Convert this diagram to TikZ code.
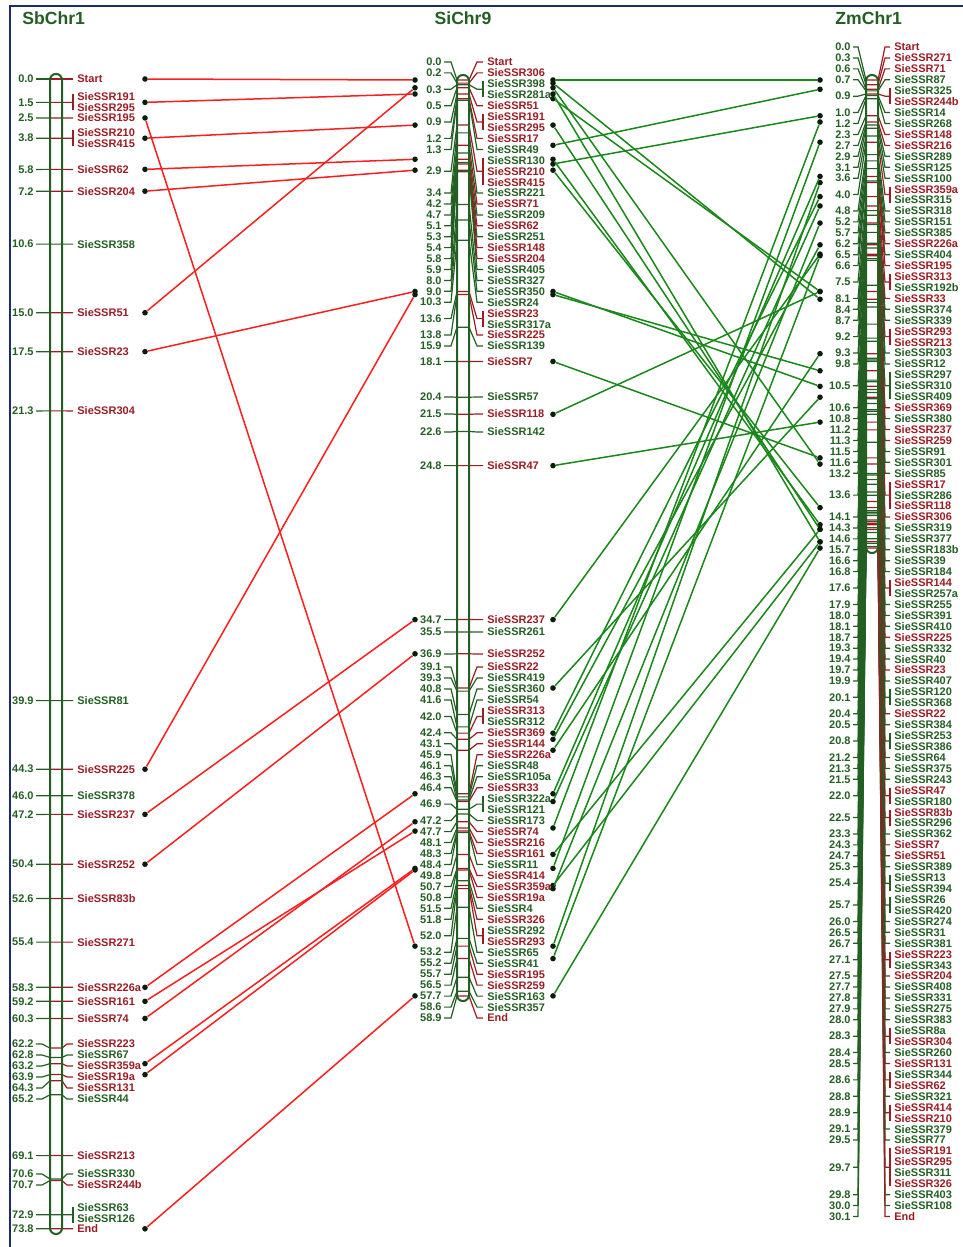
\documentclass[tikz,border=0pt]{standalone}
\usepackage{fontspec}
\setmainfont{Liberation Sans}
\usetikzlibrary{positioning}
\definecolor{mg}{RGB}{35,95,35}
\definecolor{mr}{RGB}{155,28,35}
\definecolor{lr}{RGB}{250,30,30}
\definecolor{lg}{RGB}{25,135,25}
\definecolor{frame}{RGB}{28,42,110}
\tikzset{every picture/.style={/utils/exec={\bfseries\fontsize{5.5}{6}\selectfont}}}
\tikzset{
  num/.style={anchor=east,inner sep=0.5pt,text=mg},
  lbl/.style={anchor=west,inner sep=0.5pt},
  dot/.style={circle,fill=black!70!mg,inner sep=0pt,minimum size=2.8pt},
  redlink/.style={lr,line width=0.75pt},
  greenlink/.style={lg,line width=0.75pt},
  tick/.style={line width=0.6pt},
  chrbar/.style={mg,line width=1pt,rounded corners=2.9pt},
  title/.style={text=mg,font=\bfseries\fontsize{8.8}{10}\selectfont,anchor=west,inner sep=0pt}
}
% one position of a map: cM, label y, bracket half height, colour, node name
\newcommand{\mgroup}[5]{%
  \pgfmathsetmacro\yt{\Yo+\Ks*#1}
  \node[num] (#5) at (\Xn,#2) {#1};
  \draw[tick,color=mg] (\Xn+1,#2) -- (\Xa,#2) -- (\Xbl,\yt);
  \draw[tick,color=#4] (\Xbl,\yt) -- (\Xbr,\yt) -- (\Xc,#2) -- (\Xt-3,#2);
  \ifdim #3pt>0pt \draw[tick,color=#4] (\Xt-3,#2-#3) -- (\Xt-3,#2+#3);\fi
}

\begin{document}
\begin{tikzpicture}[x=0.5pt,y=-0.5pt]
  \useasboundingbox (0,0) rectangle (963,1247);
  \draw[frame,line width=1.2pt] (10,1247) -- (10,6) -- (963,6);

  % SbChr1
  \node[title] (sbtitle) at (22,18) {SbChr1};
  \def\Yo{79}\def\Ks{15.58}
  \def\Xn{35}\def\Xa{42}\def\Xbl{50}\def\Xbr{62}\def\Xc{67}\def\Xt{76}
  \foreach \cm/\ny/\h/\c [count=\i] in {0.0/79/0/mr,1.5/102.4/8/mr,2.5/118/0/mr,3.8/138.2/8/mr,
    5.8/169.4/0/mr,7.2/191.2/0/mr,10.6/244.1/0/mg,15.0/312.7/0/mr,17.5/351.7/0/mr,21.3/410.9/0/mr,
    39.9/700.6/0/mg,44.3/769.2/0/mr,46.0/795.7/0/mg,47.2/814.4/0/mr,50.4/864.2/0/mr,52.6/898.5/0/mr,
    55.4/942.1/0/mr,58.3/987.3/0/mr,59.2/1001.3/0/mr,60.3/1018.5/0/mr,62.2/1044/0/mr,62.8/1055/0/mg,
    63.2/1066/0/mr,63.9/1077/0/mr,64.3/1088/0/mr,65.2/1099/0/mg,69.1/1155.6/0/mr,70.6/1174/0/mg,
    70.7/1185/0/mr,72.9/1214.8/8/mg,73.8/1228.8/0/mr}
    {\mgroup{\cm}{\ny}{\h}{\c}{sbn\i}}
  \foreach \y/\n/\c [count=\i] in {79/Start/mr,97/SieSSR191/mr,108/SieSSR295/mr,118/SieSSR195/mr,
    133/SieSSR210/mr,144/SieSSR415/mr,169.4/SieSSR62/mr,191.2/SieSSR204/mr,244.1/SieSSR358/mg,
    312.7/SieSSR51/mr,351.7/SieSSR23/mr,410.9/SieSSR304/mr,700.6/SieSSR81/mg,769.2/SieSSR225/mr,
    795.7/SieSSR378/mg,814.4/SieSSR237/mr,864.2/SieSSR252/mr,898.5/SieSSR83b/mr,942.1/SieSSR271/mr,
    987.3/SieSSR226a/mr,1001.3/SieSSR161/mr,1018.5/SieSSR74/mr,1044/SieSSR223/mr,1055/SieSSR67/mg,
    1066/SieSSR359a/mr,1077/SieSSR19a/mr,1088/SieSSR131/mr,1099/SieSSR44/mg,1155.6/SieSSR213/mr,
    1174/SieSSR330/mg,1185/SieSSR244b/mr,1208/SieSSR63/mg,1219/SieSSR126/mg,1228.8/End/mr}
    \node[lbl,text=\c] (sbl\i) at (\Xt,\y) {\n};
  \draw[chrbar] (\Xbl,\Yo-5) rectangle (\Xbr,1234);

  % SiChr9
  \node[title,anchor=center] (sititle) at (463,18) {SiChr9};
  \def\Yo{80}\def\Ks{15.55}
  \def\Xn{443}\def\Xa{451}\def\Xbl{457}\def\Xbr{469}\def\Xc{477}\def\Xt{486}
  \foreach \cm/\ny/\h/\c [count=\i] in {0.0/62/0/mr,0.2/72.9/0/mr,0.3/89.3/8/mg,0.5/105.7/0/mr,
    0.9/122/8/mr,1.2/138.4/0/mr,1.3/149.4/0/mg,2.9/171.2/13.5/mr,3.4/193/0/mg,4.2/204/0/mr,
    4.7/214.9/0/mg,5.1/225.8/0/mr,5.3/236.7/0/mg,5.4/247.6/0/mr,5.8/258.6/0/mr,5.9/269.5/0/mg,
    8.0/280.4/0/mg,9.0/291.3/0/mg,10.3/302.2/0/mg,13.6/318.6/8/mr,13.8/335/0/mr,15.9/345.9/0/mg,
    18.1/361.5/0/mr,20.4/397/0/mg,21.5/414/0/mr,22.6/432/0/mg,24.8/465.6/0/mr,34.7/619.6/0/mr,
    35.5/632/0/mg,36.9/654/0/mr,39.1/667/0/mr,39.3/678/0/mg,40.8/688.9/0/mg,41.6/699.9/0/mg,
    42.0/716.4/8/mr,42.4/732.8/0/mr,43.1/743.8/0/mr,45.9/754.8/0/mr,46.1/765.7/0/mg,46.3/776.7/0/mg,
    46.4/787.7/0/mr,46.9/804.1/8/mg,47.2/820.6/0/mg,47.7/831.6/0/mr,48.1/842.5/0/mr,48.3/853.5/0/mr,
    48.4/864.5/0/mg,49.8/875.4/0/mr,50.7/886.4/0/mr,50.8/897.4/0/mr,51.5/908.3/0/mg,51.8/919.3/0/mr,
    52.0/935.8/8/mr,53.2/952.2/0/mg,55.2/963.2/0/mg,55.7/974.2/0/mr,56.5/985.1/0/mr,57.7/996.1/0/mg,
    58.6/1007.1/0/mg,58.9/1018/0/mr}
    {\mgroup{\cm}{\ny}{\h}{\c}{sin\i}}
  \foreach \n/\c [count=\i from 0] in {Start/mr,SieSSR306/mr,SieSSR398/mg,SieSSR281a/mg,SieSSR51/mr,
    SieSSR191/mr,SieSSR295/mr,SieSSR17/mr,SieSSR49/mg,SieSSR130/mg,SieSSR210/mr,SieSSR415/mr,
    SieSSR221/mg,SieSSR71/mr,SieSSR209/mg,SieSSR62/mr,SieSSR251/mg,SieSSR148/mr,SieSSR204/mr,
    SieSSR405/mg,SieSSR327/mg,SieSSR350/mg,SieSSR24/mg,SieSSR23/mr,SieSSR317a/mg,SieSSR225/mr,
    SieSSR139/mg}
    \node[lbl,text=\c] (sila\i) at (\Xt,62+10.92*\i) {\n};
  \foreach \y/\n/\c [count=\i] in {361.5/SieSSR7/mr,397/SieSSR57/mg,414/SieSSR118/mr,
    432/SieSSR142/mg,465.6/SieSSR47/mr,619.6/SieSSR237/mr,632/SieSSR261/mg,654/SieSSR252/mr}
    \node[lbl,text=\c] (silb\i) at (\Xt,\y) {\n};
  \foreach \n/\c [count=\i from 0] in {SieSSR22/mr,SieSSR419/mg,SieSSR360/mg,SieSSR54/mg,
    SieSSR313/mr,SieSSR312/mg,SieSSR369/mr,SieSSR144/mr,SieSSR226a/mr,SieSSR48/mg,SieSSR105a/mg,
    SieSSR33/mr,SieSSR322a/mg,SieSSR121/mg,SieSSR173/mg,SieSSR74/mr,SieSSR216/mr,SieSSR161/mr,
    SieSSR11/mg,SieSSR414/mr,SieSSR359a/mr,SieSSR19a/mr,SieSSR4/mg,SieSSR326/mr,SieSSR292/mg,
    SieSSR293/mr,SieSSR65/mg,SieSSR41/mg,SieSSR195/mr,SieSSR259/mr,SieSSR163/mg,SieSSR357/mg,End/mr}
    \node[lbl,text=\c] (silc\i) at (\Xt,667+10.97*\i) {\n};
  \draw[chrbar] (\Xbl,\Yo-5) rectangle (\Xbr,1001);

  % ZmChr1
  \node[title] (zmtitle) at (835,18) {ZmChr1};
  \def\Yo{80}\def\Ks{15.55}
  \def\Xn{852}\def\Xa{858}\def\Xbl{866}\def\Xbr{878}\def\Xc{885}\def\Xt{893}
  \foreach \cm/\a/\b/\c [count=\i] in {0.0/1/1/mr,0.3/2/2/mr,0.6/3/3/mr,0.7/4/4/mg,0.9/5/6/mr,
    1.0/7/7/mg,1.2/8/8/mg,2.3/9/9/mr,2.7/10/10/mr,2.9/11/11/mg,3.1/12/12/mg,3.6/13/13/mg,
    4.0/14/15/mr,4.8/16/16/mg,5.2/17/17/mg,5.7/18/18/mg,6.2/19/19/mr,6.5/20/20/mg,6.6/21/21/mr,
    7.5/22/23/mr,8.1/24/24/mr,8.4/25/25/mg,8.7/26/26/mg,9.2/27/28/mr,9.3/29/29/mg,9.8/30/30/mg,
    10.5/31/33/mg,10.6/34/34/mr,10.8/35/35/mg,11.2/36/36/mr,11.3/37/37/mr,11.5/38/38/mg,
    11.6/39/39/mg,13.2/40/40/mg,13.6/41/43/mr,14.1/44/44/mr,14.3/45/45/mg,14.6/46/46/mg,
    15.7/47/47/mg,16.6/48/48/mg,16.8/49/49/mg,17.6/50/51/mr,17.9/52/52/mg,18.0/53/53/mg,
    18.1/54/54/mg,18.7/55/55/mr,19.3/56/56/mg,19.4/57/57/mg,19.7/58/58/mr,19.9/59/59/mg,
    20.1/60/61/mg,20.4/62/62/mr,20.5/63/63/mg,20.8/64/65/mg,21.2/66/66/mg,21.3/67/67/mg,
    21.5/68/68/mg,22.0/69/70/mr,22.5/71/72/mr,23.3/73/73/mg,24.3/74/74/mr,24.7/75/75/mr,
    25.3/76/76/mg,25.4/77/78/mg,25.7/79/80/mg,26.0/81/81/mg,26.5/82/82/mg,26.7/83/83/mg,
    27.1/84/85/mr,27.5/86/86/mr,27.7/87/87/mg,27.8/88/88/mg,27.9/89/89/mg,28.0/90/90/mg,
    28.3/91/92/mr,28.4/93/93/mg,28.5/94/94/mr,28.6/95/96/mr,28.8/97/97/mg,28.9/98/99/mr,
    29.1/100/100/mg,29.5/101/101/mg,29.7/102/105/mr,29.8/106/106/mg,30.0/107/107/mg,30.1/108/108/mr}
    {\pgfmathsetmacro\ny{47+((\a+\b)/2-1)*10.93}
     \pgfmathsetmacro\hh{(\b-\a)*5.47+2.5*(\b>\a)}
     \mgroup{\cm}{\ny}{\hh}{\c}{zmn\i}}
  \foreach \n/\c [count=\i from 0] in {Start/mr,SieSSR271/mr,SieSSR71/mr,SieSSR87/mg,SieSSR325/mg,
    SieSSR244b/mr,SieSSR14/mg,SieSSR268/mg,SieSSR148/mr,SieSSR216/mr,SieSSR289/mg,SieSSR125/mg,
    SieSSR100/mg,SieSSR359a/mr,SieSSR315/mg,SieSSR318/mg,SieSSR151/mg,SieSSR385/mg,SieSSR226a/mr,
    SieSSR404/mg,SieSSR195/mr,SieSSR313/mr,SieSSR192b/mg,SieSSR33/mr,SieSSR374/mg,SieSSR339/mg,
    SieSSR293/mr,SieSSR213/mr,SieSSR303/mg,SieSSR12/mg,SieSSR297/mg,SieSSR310/mg,SieSSR409/mg,
    SieSSR369/mr,SieSSR380/mg,SieSSR237/mr,SieSSR259/mr,SieSSR91/mg,SieSSR301/mg,SieSSR85/mg,
    SieSSR17/mr,SieSSR286/mg,SieSSR118/mr,SieSSR306/mr,SieSSR319/mg,SieSSR377/mg,SieSSR183b/mg,
    SieSSR39/mg,SieSSR184/mg,SieSSR144/mr,SieSSR257a/mg,SieSSR255/mg,SieSSR391/mg,SieSSR410/mg,
    SieSSR225/mr,SieSSR332/mg,SieSSR40/mg,SieSSR23/mr,SieSSR407/mg,SieSSR120/mg,SieSSR368/mg,
    SieSSR22/mr,SieSSR384/mg,SieSSR253/mg,SieSSR386/mg,SieSSR64/mg,SieSSR375/mg,SieSSR243/mg,
    SieSSR47/mr,SieSSR180/mg,SieSSR83b/mr,SieSSR296/mg,SieSSR362/mg,SieSSR7/mr,SieSSR51/mr,
    SieSSR389/mg,SieSSR13/mg,SieSSR394/mg,SieSSR26/mg,SieSSR420/mg,SieSSR274/mg,SieSSR31/mg,
    SieSSR381/mg,SieSSR223/mr,SieSSR343/mg,SieSSR204/mr,SieSSR408/mg,SieSSR331/mg,SieSSR275/mg,
    SieSSR383/mg,SieSSR8a/mg,SieSSR304/mr,SieSSR260/mg,SieSSR131/mr,SieSSR344/mg,SieSSR62/mr,
    SieSSR321/mg,SieSSR414/mr,SieSSR210/mr,SieSSR379/mg,SieSSR77/mg,SieSSR191/mr,SieSSR295/mr,
    SieSSR311/mg,SieSSR326/mr,SieSSR403/mg,SieSSR108/mg,End/mr}
    \node[lbl,text=\c] (zml\i) at (\Xt,47+10.93*\i) {\n};
  \draw[chrbar] (\Xbl,\Yo-5) rectangle (\Xbr,553);

  % link end points
  \foreach \n/\cm in {Start/0.0,191/1.5,195/2.5,210/3.8,62/5.8,204/7.2,51/15.0,23/17.5,225/44.3,
    237/47.2,252/50.4,226a/58.3,161/59.2,74/60.3,359a/63.2,19a/63.9,End/73.8}
    \node[dot] (sb\n) at (145,79+15.58*\cm) {};
  \foreach \n/\cm in {Start/0.0,191/0.9,195/55.7,210/2.9,62/5.1,204/5.8,51/0.5,23/13.6,225/13.8,
    237/34.7,252/36.9,226a/45.9,161/48.3,74/47.7,359a/50.7,19a/50.8,End/58.9}
    \node[dot] (sil\n) at (415,80+15.55*\cm) {};
  \foreach \n/\cm in {Start/0.0,306/0.2,51/0.5,191/0.9,17/1.2,210/2.9,71/4.2,62/5.1,148/5.4,
    204/5.8,23/13.6,225/13.8,7/18.1,118/21.5,47/24.8,237/34.7,22/39.1,313/42.0,369/42.4,144/43.1,
    226a/45.9,33/46.4,216/48.1,414/49.8,359a/50.7,326/51.8,293/52.0,195/55.7,259/56.5,End/58.9}
    \node[dot] (sir\n) at (553,80+15.55*\cm) {};
  \foreach \n/\cm in {Start/0.0,306/14.1,51/24.7,191/29.7,17/13.6,210/28.9,71/0.6,62/28.6,148/2.3,
    204/27.5,23/19.7,225/18.7,7/24.3,118/13.6,47/22.0,237/11.2,22/20.4,313/7.5,369/10.6,144/17.6,
    226a/6.2,33/8.1,216/2.7,414/28.9,359a/4.0,326/29.7,293/9.2,195/6.6,259/11.3,End/30.1}
    \node[dot] (zm\n) at (820,80+15.55*\cm) {};

  % links
  \foreach \n in {Start,191,195,210,62,204,51,23,225,237,252,226a,161,74,359a,19a,End}
    \draw[redlink] (sb\n) -- (sil\n);
  \foreach \n in {Start,306,51,191,17,210,71,62,148,204,23,225,7,118,47,237,22,313,369,144,
    226a,33,216,414,359a,326,293,195,259,End}
    \draw[greenlink] (sir\n) -- (zm\n);
\end{tikzpicture}
\end{document}
